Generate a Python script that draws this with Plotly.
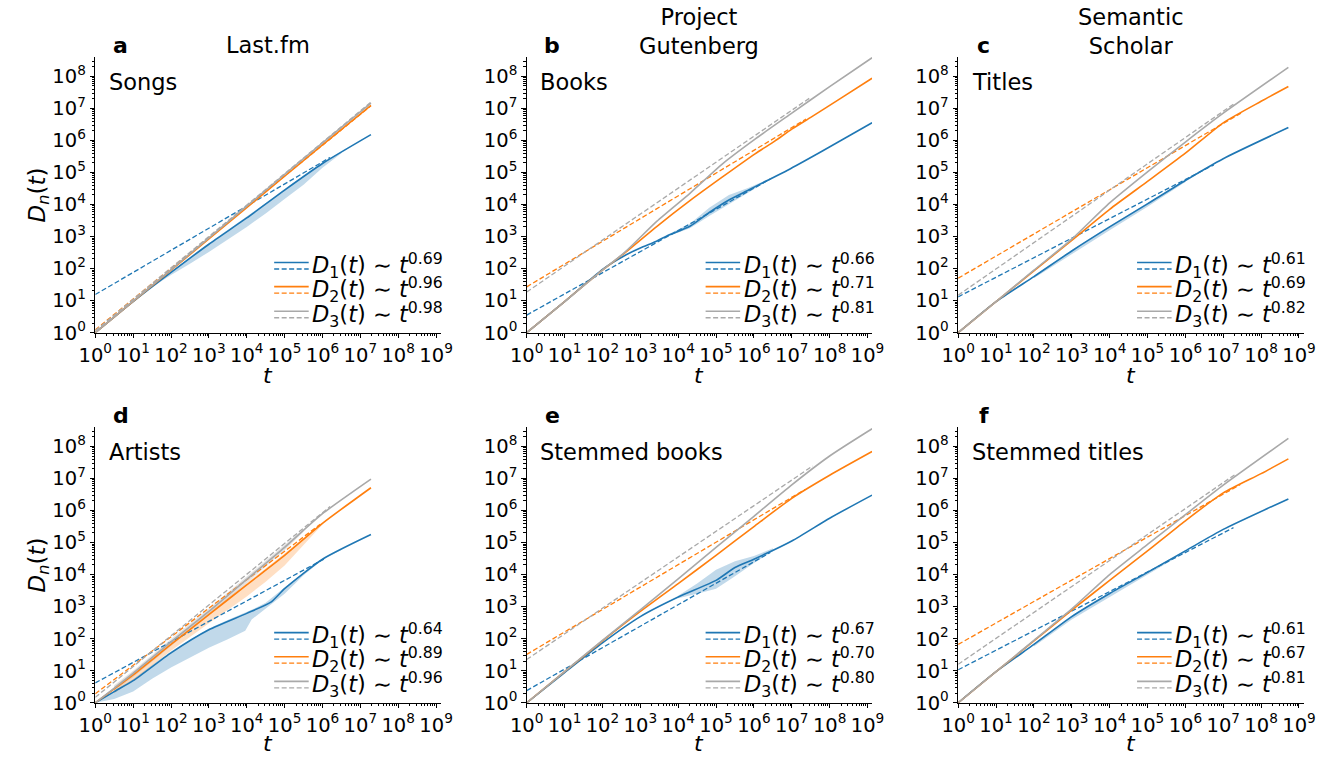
import plotly.graph_objects as go

# All curve values are log10 numbers: *_t = log10(t), *_d = log10(D_n(t)).

# ---------- Last.fm / Songs ----------
songs_t1 = [0, 1, 2, 3, 4, 5, 6, 7.28]
songs_d1 = [0, 0.97, 1.88, 2.76, 3.58, 4.45, 5.28, 6.18]
songs_t2 = [0, 2, 4, 6, 7.28]
songs_d2 = [0, 1.95, 3.9, 5.86, 7.09]
songs_t3 = [0, 2, 4, 6, 7.28]
songs_d3 = [0, 1.97, 3.95, 5.92, 7.16]
songs_band1_t = [1.5, 2, 2.5, 3, 3.5, 4, 4.5, 5, 5.5, 6, 6.5]
songs_band1_lo = [1.42, 1.8, 2.15, 2.52, 2.9, 3.3, 3.72, 4.17, 4.62, 5.15, 5.6]
songs_band1_hi = [1.47, 1.9, 2.34, 2.79, 3.2, 3.62, 4.04, 4.48, 4.9, 5.31, 5.65]
songs_exp = [0.69, 0.96, 0.98]
songs_fit_c = [1.19, 0.09, 0.06]
songs_fit_end = [6.2, 7.28, 7.28]

# ---------- Project Gutenberg / Books ----------
books_t1 = [0, 1, 2.02, 2.58, 3.0, 3.44, 3.7, 4.31, 4.82, 5.34, 5.86, 6.2, 6.89, 7.75, 9.12]
books_d1 = [0, 0.97, 1.99, 2.4, 2.64, 2.86, 3.02, 3.32, 3.75, 4.14, 4.45, 4.66, 5.07, 5.63, 6.55]
books_t2 = [0, 1, 2, 2.6, 3.44, 4.31, 5.17, 6.03, 6.55, 7, 7.5, 8.3, 9.12]
books_d2 = [0, 0.97, 1.95, 2.5, 3.32, 4.12, 4.86, 5.58, 5.98, 6.35, 6.72, 7.32, 7.94]
books_t3 = [0, 1, 2, 2.6, 3.44, 4.31, 5.17, 6.03, 7, 8, 9.12]
books_d3 = [0, 0.97, 1.95, 2.52, 3.48, 4.35, 5.27, 6.04, 6.85, 7.68, 8.58]
books_band1_t = [3.7, 4.31, 4.82, 5.34, 5.86, 6.2, 6.5]
books_band1_lo = [2.99, 3.26, 3.64, 4.03, 4.38, 4.62, 4.84]
books_band1_hi = [3.05, 3.4, 3.9, 4.3, 4.52, 4.69, 4.86]
books_exp = [0.66, 0.71, 0.81]
books_fit_c = [0.55, 1.43, 1.27]
books_fit_end = [6.43, 7.38, 7.47]

# ---------- Semantic Scholar / Titles ----------
titles_t1 = [0, 1, 2, 3, 4, 5, 6, 7, 8.72]
titles_d1 = [0, 0.97, 1.75, 2.55, 3.3, 4.02, 4.75, 5.43, 6.4]
titles_t2 = [0, 1, 2, 3, 4, 5, 6, 7, 8, 8.72]
titles_d2 = [0, 0.97, 1.93, 2.88, 3.85, 4.72, 5.6, 6.55, 7.22, 7.68]
titles_t3 = [0, 1, 2, 3, 4, 5, 6, 7, 8.72]
titles_d3 = [0, 0.97, 1.95, 2.92, 4.05, 5.02, 5.95, 6.85, 8.28]
titles_band1_t = [2, 3, 4, 5, 6]
titles_band1_lo = [1.7, 2.45, 3.2, 3.93, 4.7]
titles_band1_hi = [1.77, 2.58, 3.33, 4.05, 4.77]
titles_exp = [0.61, 0.69, 0.82]
titles_fit_c = [1.12, 1.7, 1.17]
titles_fit_end = [6.75, 7.5, 7.31]

# ---------- Last.fm / Artists ----------
artists_t1 = [0, 0.5, 1, 2, 3, 4, 4.65, 5, 6, 7.28]
artists_d1 = [0, 0.35, 0.69, 1.56, 2.28, 2.79, 3.15, 3.56, 4.48, 5.25]
artists_t2 = [0, 1, 2, 3, 4, 5, 6, 7.28]
artists_d2 = [0, 0.87, 1.82, 2.75, 3.68, 4.6, 5.6, 6.71]
artists_t3 = [0, 1, 2, 3, 4, 5, 6, 7.28]
artists_d3 = [0, 0.92, 1.9, 2.85, 3.85, 4.85, 5.9, 6.98]
artists_band1_t = [0, 0.5, 1, 1.5, 2, 2.5, 3, 3.5, 3.96, 4.13, 4.5, 5, 5.5, 6, 6.5]
artists_band1_lo = [0, 0.12, 0.35, 0.75, 1.1, 1.4, 1.72, 1.98, 2.25, 2.6, 2.95, 3.4, 3.98, 4.46, 4.77]
artists_band1_hi = [0, 0.38, 0.74, 1.18, 1.6, 1.96, 2.32, 2.58, 2.82, 2.9, 3.12, 3.6, 4.05, 4.5, 4.8]
artists_band2_t = [0.5, 1, 2, 3, 4, 4.5, 5, 5.5, 6]
artists_band2_lo = [0.3, 0.7, 1.62, 2.48, 3.32, 3.78, 4.28, 4.92, 5.56]
artists_band2_hi = [0.5, 0.95, 1.9, 2.83, 3.76, 4.2, 4.66, 5.14, 5.62]
artists_band3_t = [0.5, 1, 2, 3, 4, 5, 5.5]
artists_band3_lo = [0.36, 0.8, 1.77, 2.74, 3.74, 4.76, 5.34]
artists_band3_hi = [0.55, 1.0, 1.99, 2.94, 3.94, 4.92, 5.42]
artists_exp = [0.64, 0.89, 0.96]
artists_fit_c = [0.62, 0.28, 0.17]
artists_fit_end = [6.07, 5.94, 6.2]

# ---------- Project Gutenberg / Stemmed books ----------
sbooks_t1 = [0, 1, 2, 3, 4, 5, 5.5, 6, 7, 8, 9.12]
sbooks_d1 = [0, 0.94, 1.87, 2.69, 3.3, 3.82, 4.22, 4.48, 5.05, 5.76, 6.48]
sbooks_t2 = [0, 1, 2, 3, 4, 5, 6, 7, 8, 9.12]
sbooks_d2 = [0, 0.97, 1.93, 2.85, 3.72, 4.6, 5.5, 6.38, 7.1, 7.84]
sbooks_t3 = [0, 1, 2, 3, 4, 5, 6, 7, 8, 9.12]
sbooks_d3 = [0, 0.97, 1.95, 2.9, 3.87, 4.85, 5.82, 6.8, 7.7, 8.55]
sbooks_band1_t = [4, 4.5, 5, 5.5, 6, 6.5]
sbooks_band1_lo = [3.26, 3.4, 3.56, 3.95, 4.36, 4.73]
sbooks_band1_hi = [3.34, 3.72, 4.15, 4.42, 4.58, 4.82]
sbooks_exp = [0.67, 0.70, 0.80]
sbooks_fit_c = [0.38, 1.51, 1.35]
sbooks_fit_end = [6.43, 7.35, 7.55]

# ---------- Semantic Scholar / Stemmed titles ----------
stitles_t1 = [0, 1, 2, 3, 4, 5, 6, 7, 8.72]
stitles_d1 = [0, 0.97, 1.82, 2.69, 3.41, 4.07, 4.74, 5.41, 6.36]
stitles_t2 = [0, 1, 2, 3, 4, 5, 6, 7, 8, 8.72]
stitles_d2 = [0, 0.97, 1.93, 2.89, 3.82, 4.74, 5.68, 6.55, 7.15, 7.61]
stitles_t3 = [0, 1, 2, 3, 4, 5, 6, 7, 8.72]
stitles_d3 = [0, 0.97, 1.95, 2.93, 4.0, 4.94, 5.87, 6.79, 8.25]
stitles_band1_t = [2, 3, 4, 5, 6]
stitles_band1_lo = [1.76, 2.6, 3.32, 4.0, 4.7]
stitles_band1_hi = [1.84, 2.72, 3.44, 4.09, 4.76]
stitles_exp = [0.61, 0.67, 0.81]
stitles_fit_c = [1.03, 1.82, 1.2]
stitles_fit_end = [7.27, 7.45, 7.31]

panel_letters = ["a", "b", "c", "d", "e", "f"]
panel_names = ["Songs", "Books", "Titles", "Artists", "Stemmed books", "Stemmed titles"]
column_titles = ["Last.fm", "Project<br>Gutenberg", "Semantic<br>Scholar"]
x_tick_exps = list(range(10))
y_tick_exps = list(range(9))

BLUE, ORANGE, GRAY = "#1f77b4", "#ff7f0e", "#a9a9a9"
COLORS = [BLUE, ORANGE, GRAY]
BAND_COLORS = ["rgba(31,119,180,0.28)", "rgba(255,127,14,0.25)", "rgba(169,169,169,0.32)"]
FONT = "DejaVu Sans"
DASH = "5px,2.5px"

panels = [
    dict(curves=[(songs_t1, songs_d1), (songs_t2, songs_d2), (songs_t3, songs_d3)],
         bands={0: (songs_band1_t, songs_band1_lo, songs_band1_hi)},
         exp=songs_exp, c=songs_fit_c, end=songs_fit_end),
    dict(curves=[(books_t1, books_d1), (books_t2, books_d2), (books_t3, books_d3)],
         bands={0: (books_band1_t, books_band1_lo, books_band1_hi)},
         exp=books_exp, c=books_fit_c, end=books_fit_end),
    dict(curves=[(titles_t1, titles_d1), (titles_t2, titles_d2), (titles_t3, titles_d3)],
         bands={0: (titles_band1_t, titles_band1_lo, titles_band1_hi)},
         exp=titles_exp, c=titles_fit_c, end=titles_fit_end),
    dict(curves=[(artists_t1, artists_d1), (artists_t2, artists_d2), (artists_t3, artists_d3)],
         bands={0: (artists_band1_t, artists_band1_lo, artists_band1_hi),
                1: (artists_band2_t, artists_band2_lo, artists_band2_hi),
                2: (artists_band3_t, artists_band3_lo, artists_band3_hi)},
         exp=artists_exp, c=artists_fit_c, end=artists_fit_end),
    dict(curves=[(sbooks_t1, sbooks_d1), (sbooks_t2, sbooks_d2), (sbooks_t3, sbooks_d3)],
         bands={0: (sbooks_band1_t, sbooks_band1_lo, sbooks_band1_hi)},
         exp=sbooks_exp, c=sbooks_fit_c, end=sbooks_fit_end),
    dict(curves=[(stitles_t1, stitles_d1), (stitles_t2, stitles_d2), (stitles_t3, stitles_d3)],
         bands={0: (stitles_band1_t, stitles_band1_lo, stitles_band1_hi)},
         exp=stitles_exp, c=stitles_fit_c, end=stitles_fit_end),
]

W, H = 1339, 764
X_PX = [(80, 433), (521, 874), (962, 1315)]
Y_PX = [(58, 338), (434, 714)]  # top, bottom in pixels


def pow10(vals):
    return [10 ** v for v in vals]


fig = go.Figure()
layout = dict(
    width=W, height=H, margin=dict(l=0, r=0, t=0, b=0),
    paper_bgcolor="white", plot_bgcolor="white",
    showlegend=False, font=dict(family=FONT, color="black"),
)
shapes, annotations = [], []

minor_x = [m * 10 ** k for k in range(10) for m in range(2, 10)]
minor_y = [m * 10 ** k for k in range(9) for m in range(2, 10)]
tick_font = dict(family=FONT, size=19.5, color="black")

for i, p in enumerate(panels):
    row, col = divmod(i, 3)
    n = i + 1
    sfx = "" if n == 1 else str(n)
    xa, ya = "x" + sfx, "y" + sfx
    x0, x1 = X_PX[col]
    top, bot = Y_PX[row]

    common = dict(
        type="log", showline=True, linecolor="black", linewidth=1, mirror=False,
        showgrid=False, zeroline=False, ticks="outside", ticklen=4.5, tickwidth=1,
        tickcolor="black", tickfont=tick_font, fixedrange=True,
    )
    layout["xaxis" + sfx] = dict(
        common, range=[0, 9.12], domain=[x0 / W, x1 / W], anchor=ya,
        tickvals=[10 ** k for k in x_tick_exps],
        ticktext=[f"10<sup>{k}</sup>" for k in x_tick_exps],
        minor=dict(tickvals=minor_x, ticks="outside", ticklen=2.5, tickwidth=0.7,
                   tickcolor="black", showgrid=False),
    )
    layout["yaxis" + sfx] = dict(
        common, range=[0, 8.6], domain=[1 - bot / H, 1 - top / H], anchor=xa,
        tickvals=[10 ** k for k in y_tick_exps],
        ticktext=[f"10<sup>{k}</sup>" for k in y_tick_exps],
        minor=dict(tickvals=minor_y, ticks="outside", ticklen=2.5, tickwidth=0.7,
                   tickcolor="black", showgrid=False),
    )

    # shaded spread around each curve
    for k, (bt, blo, bhi) in p["bands"].items():
        fig.add_trace(go.Scatter(
            x=pow10(bt + bt[::-1]), y=pow10(bhi + blo[::-1]),
            fill="toself", fillcolor=BAND_COLORS[k], line=dict(width=0),
            mode="lines", hoverinfo="skip", xaxis=xa, yaxis=ya))

    # measured curves and power-law fits
    for k, (ct, cd) in enumerate(p["curves"]):
        fig.add_trace(go.Scatter(
            x=pow10(ct), y=pow10(cd), mode="lines",
            line=dict(color=COLORS[k], width=1.6, shape="spline", smoothing=0.6),
            xaxis=xa, yaxis=ya))
        a, c, e = p["exp"][k], p["c"][k], p["end"][k]
        fig.add_trace(go.Scatter(
            x=[1, 10 ** e], y=[10 ** c, 10 ** (c + a * e)], mode="lines",
            line=dict(color=COLORS[k], width=1.3, dash=DASH),
            xaxis=xa, yaxis=ya))

    # legend block: solid + dashed handle, then label
    xd, yd = xa + " domain", ya + " domain"
    ph = bot - top
    for k in range(3):
        yc = [68, 43.5, 18.5][k] / ph
        for off, dash in ((3.3, "solid"), (-3.3, DASH)):
            shapes.append(dict(
                type="line", xref=xd, yref=yd, x0=0.518, x1=0.618,
                y0=yc + off / ph, y1=yc + off / ph,
                line=dict(color=COLORS[k], width=1.6 if dash == "solid" else 1.3, dash=dash)))
        annotations.append(dict(
            xref=xd, yref=yd, x=0.623, y=yc, xanchor="left", yanchor="middle",
            showarrow=False,
            text=f"<i>D</i><sub>{k + 1}</sub>(<i>t</i>) ∼ <i>t</i><sup>{p['exp'][k]:.2f}</sup>",
            font=dict(family=FONT, size=22.5, color="black")))

    # dataset name inside the axes
    annotations.append(dict(
        xref=xd, yref=yd, x=11.7 / (x1 - x0), y=1 - 25 / ph, xanchor="left",
        yanchor="middle", showarrow=False, text=panel_names[i],
        font=dict(family=FONT, size=22.5, color="black")))

    # panel letter
    ly = 46 if row == 0 else 422
    annotations.append(dict(
        xref="paper", yref="paper", x=(x0 + 26) / W, y=1 - ly / H,
        xanchor="center", yanchor="middle", showarrow=False,
        text=f"<b>{panel_letters[i]}</b>", font=dict(family=FONT, size=22, color="black")))

    # x-axis title
    ty = 381 if row == 0 else 755
    annotations.append(dict(
        xref="paper", yref="paper", x=(x0 + x1) / 2 / W, y=1 - ty / H,
        xanchor="center", yanchor="middle", showarrow=False, text="<i>t</i>",
        font=dict(family=FONT, size=22, color="black")))

    # y-axis title on the left column
    if col == 0:
        annotations.append(dict(
            xref="paper", yref="paper", x=22 / W, y=1 - (top + bot) / 2 / H,
            xanchor="center", yanchor="middle", showarrow=False, textangle=-90,
            text="<i>D</i><sub><i>n</i></sub>(<i>t</i>)",
            font=dict(family=FONT, size=23, color="black")))

# column titles
for col, title in enumerate(column_titles):
    x0, x1 = X_PX[col]
    cy = 46 if "<br>" not in title else 32
    annotations.append(dict(
        xref="paper", yref="paper", x=(x0 + x1) / 2 / W, y=1 - cy / H,
        xanchor="center", yanchor="middle", showarrow=False, text=title,
        font=dict(family=FONT, size=22.5, color="black")))

layout["shapes"] = shapes
layout["annotations"] = annotations
fig.update_layout(**layout)
fig.write_html("out.html")
